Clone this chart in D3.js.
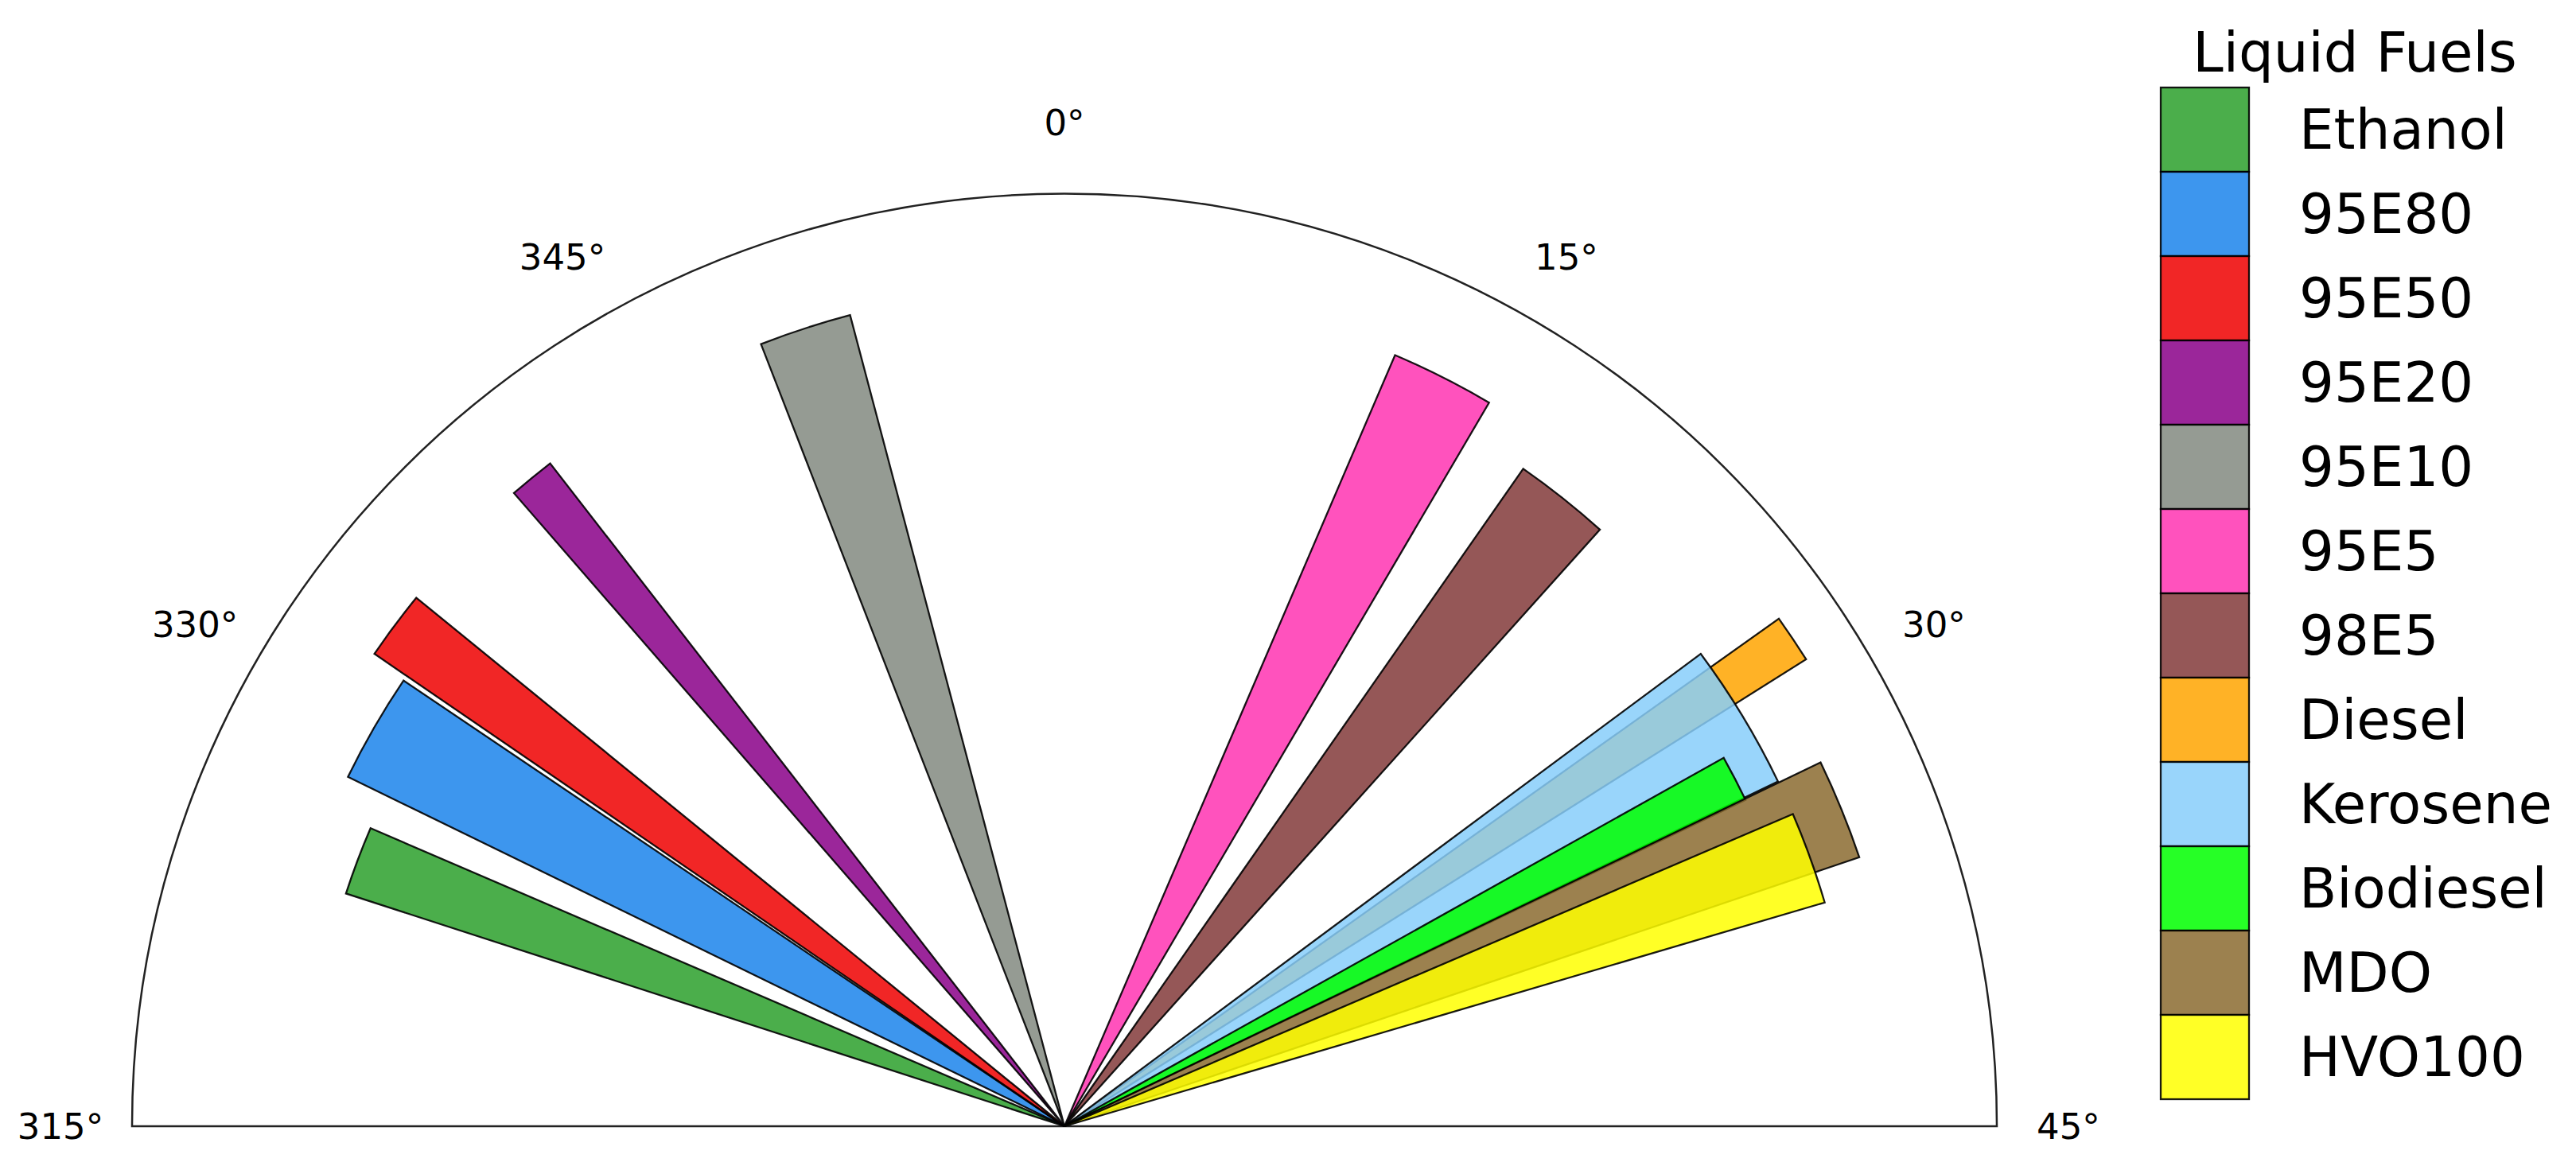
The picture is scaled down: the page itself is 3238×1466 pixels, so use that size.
<!DOCTYPE html>
<html>
<head>
<meta charset="utf-8">
<script src="https://cdn.jsdelivr.net/npm/d3@7"></script>
<style>
  html, body { margin: 0; padding: 0; background: #fff; }
  text { font-family: "DejaVu Sans", sans-serif; fill: #000; }
</style>
</head>
<body>
<div id="chart"></div>
<script>
// fuels in legend / drawing order
const fuels = ["Ethanol", "95E80", "95E50", "95E20", "95E10", "95E5", "98E5",
               "Diesel", "Kerosene", "Biodiesel", "MDO", "HVO100"];
// bar centre angle (deg, negative = 315..360), bar width (deg), bar length (fraction of outer ring)
const angles = [-34.7, -30.0, -26.6, -19.7, -9.0, 13.4, 19.2, 28.1, 29.4, 31.3, 33.9, 35.1];
const widths = [2.65, 4.0, 2.4, 1.6, 3.2, 3.6, 3.5, 1.6, 5.4, 1.8, 3.5, 3.4];
const values = [0.81, 0.855, 0.897, 0.90, 0.90, 0.90, 0.86, 0.94, 0.85, 0.81, 0.90, 0.85];
const colors = ["#2ca02c", "#1b84eb", "#ee0000", "#8a0088", "#838980", "#ff34b1",
                "#823939", "#ffa500", "#87cefa", "#00ff00", "#8b6b30", "#ffff00"];
const tickValues = [-45, -30, -15, 0, 15, 30, 45];
const tickLabels = ["315°", "330°", "345°", "0°", "15°", "30°", "45°"];
const legendTitle = "Liquid Fuels";

const width = 3238, height = 1466;
const cx = 1338, cy = 1416, R = 1172;

const svg = d3.select("#chart").append("svg")
    .attr("width", width)
    .attr("height", height);

const g = svg.append("g").attr("transform", `translate(${cx},${cy})`);

// the 90 degree span is spread over a half circle
const theta = d3.scaleLinear().domain([-45, 45]).range([-Math.PI / 2, Math.PI / 2]);
const r = d3.scaleLinear().domain([0, 1]).range([0, R]);

const data = fuels.map((f, i) => ({ fuel: f, angle: angles[i], w: widths[i], v: values[i], color: colors[i] }));

const arc = d3.arc()
    .innerRadius(0)
    .outerRadius(d => r(d.v))
    .startAngle(d => theta(d.angle - d.w / 2))
    .endAngle(d => theta(d.angle + d.w / 2));

// outer frame
g.append("path")
    .attr("d", d3.arc()({ innerRadius: 0, outerRadius: R, startAngle: -Math.PI / 2, endAngle: Math.PI / 2 }))
    .attr("fill", "none")
    .attr("stroke", "#222")
    .attr("stroke-width", 2.5);

// bars
g.selectAll("path.bar")
    .data(data)
    .enter().append("path")
    .attr("class", "bar")
    .attr("d", arc)
    .attr("fill", d => d.color)
    .attr("fill-opacity", 0.85)
    .attr("stroke", "#000")
    .attr("stroke-opacity", 0.9)
    .attr("stroke-width", 2.3)
    .attr("stroke-linejoin", "miter");

// angle tick labels
const labelR = R + 90;
g.selectAll("text.tick")
    .data(tickValues)
    .enter().append("text")
    .attr("class", "tick")
    .attr("x", d => labelR * Math.sin(theta(d)))
    .attr("y", d => -labelR * Math.cos(theta(d)))
    .attr("text-anchor", "middle")
    .attr("dominant-baseline", "central")
    .style("font-size", "45px")
    .text((d, i) => tickLabels[i]);

// legend
const lx = 2716, ly = 110, lw = 111, lh = 106;
const legend = svg.append("g");

legend.append("text")
    .attr("x", 2960)
    .attr("y", 90)
    .attr("text-anchor", "middle")
    .style("font-size", "69px")
    .text(legendTitle);

const items = legend.selectAll("g.item")
    .data(data)
    .enter().append("g")
    .attr("class", "item")
    .attr("transform", (d, i) => `translate(${lx},${ly + i * lh})`);

items.append("rect")
    .attr("width", lw)
    .attr("height", lh)
    .attr("fill", d => d.color)
    .attr("fill-opacity", 0.85)
    .attr("stroke", "#000")
    .attr("stroke-opacity", 0.9)
    .attr("stroke-width", 2.3);

items.append("text")
    .attr("x", 2890 - lx)
    .attr("y", lh / 2)
    .attr("dominant-baseline", "central")
    .style("font-size", "69px")
    .text(d => d.fuel);
</script>
</body>
</html>
